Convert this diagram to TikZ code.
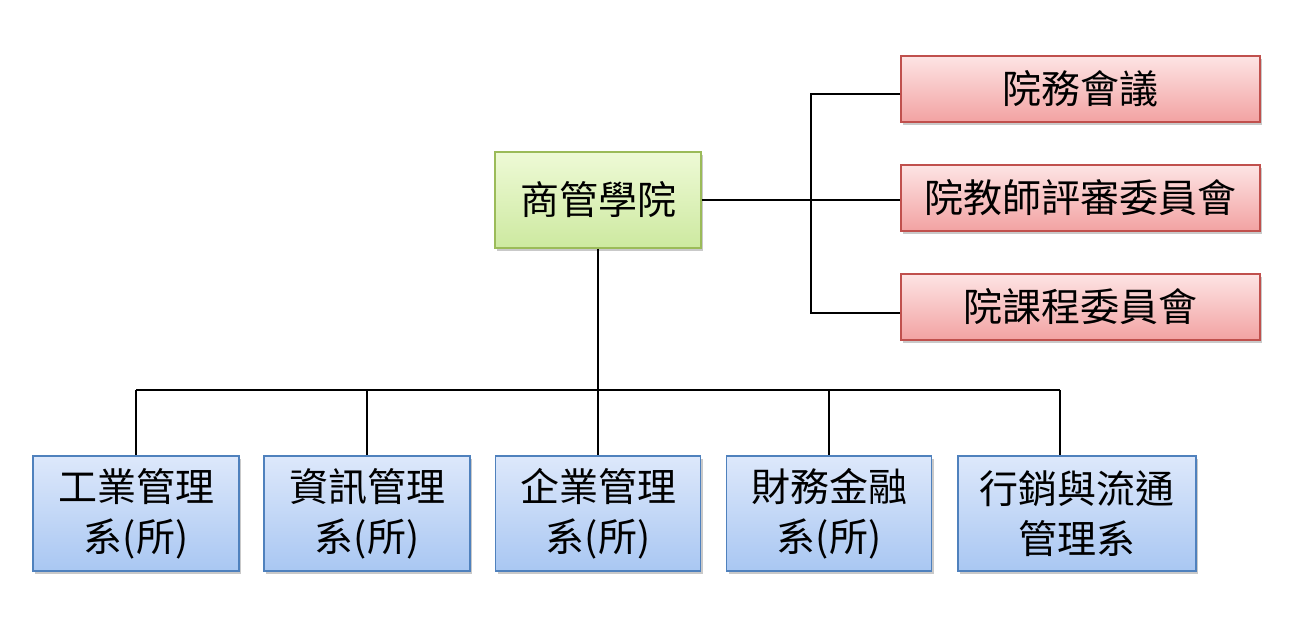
\documentclass[tikz,border=0pt]{standalone}
\usepackage{fontspec}
\newfontfamily\cjk{Noto Sans CJK TC}
\usetikzlibrary{shadows,calc}
\definecolor{gtop}{HTML}{EEFAD6}
\definecolor{gbot}{HTML}{CDE9A0}
\definecolor{gbord}{HTML}{9BBB59}
\definecolor{rtop}{HTML}{FDE4E4}
\definecolor{rbot}{HTML}{F2A2A2}
\definecolor{rbord}{HTML}{C0504D}
\definecolor{btop}{HTML}{DDE8FB}
\definecolor{bbot}{HTML}{A9C7F2}
\definecolor{bbord}{HTML}{4F81BD}
\tikzset{
  box/.style={draw, line width=1.2pt, inner sep=0pt, align=center,
    font=\cjk\fontsize{39}{50}\selectfont,
    drop shadow={shadow xshift=2pt, shadow yshift=-3pt, opacity=0.35, fill=black!60}},
  gbox/.style={box, draw=gbord, top color=gtop, bottom color=gbot},
  rbox/.style={box, draw=rbord, top color=rtop, bottom color=rbot},
  bbox/.style={box, draw=bbord, top color=btop, bottom color=bbot},
  link/.style={draw=black, line width=1.6pt}
}
\begin{document}
\begin{tikzpicture}[x=1pt,y=-1pt]
\useasboundingbox (0,0) rectangle (1299,619);
\fill[white] (0,0) rectangle (1299,619);
% root
\node[gbox, minimum width=206pt, minimum height=96pt] (root) at (598,200) {商管學院};
% committees
\node[rbox, minimum width=359pt, minimum height=66pt] (r1) at (1080.5,89) {院務會議};
\node[rbox, minimum width=359pt, minimum height=66pt] (r2) at (1080.5,198) {院教師評審委員會};
\node[rbox, minimum width=359pt, minimum height=66pt] (r3) at (1080.5,307) {院課程委員會};
% departments
\node[bbox, minimum width=206pt, minimum height=115pt] (d1) at (136,513.5) {工業管理\\系(所)};
\node[bbox, minimum width=206pt, minimum height=115pt] (d2) at (367,513.5) {資訊管理\\系(所)};
\node[bbox, minimum width=205pt, minimum height=115pt] (d3) at (598,513.5) {企業管理\\系(所)};
\node[bbox, minimum width=205pt, minimum height=115pt] (d4) at (829,513.5) {財務金融\\系(所)};
\node[bbox, minimum width=238pt, minimum height=115pt] (d5) at (1077,513.5) {行銷與流通\\管理系};
% connectors right
\coordinate (jr) at (811,200);
\coordinate (e1) at ($(r1.west)+(0,5)$);
\coordinate (e3) at ($(r3.west)+(0,6)$);
\draw[link] (root.east) -- (root.east -| r2.west);
\draw[link] (e1) -- (e1 -| jr) -- (e3 -| jr) -- (e3);
% connectors down
\coordinate (hb) at (598,390);
\coordinate (t5) at ($(d5.north)+(-17,0)$);
\draw[link] (root.south) -- (hb);
\draw[link] (d1.north |- hb) -- (t5 |- hb);
\foreach \d in {d1,d2,d3,d4}{
  \draw[link] (\d.north |- hb) -- (\d.north);
}
\draw[link] (t5 |- hb) -- (t5);
\end{tikzpicture}
\end{document}
